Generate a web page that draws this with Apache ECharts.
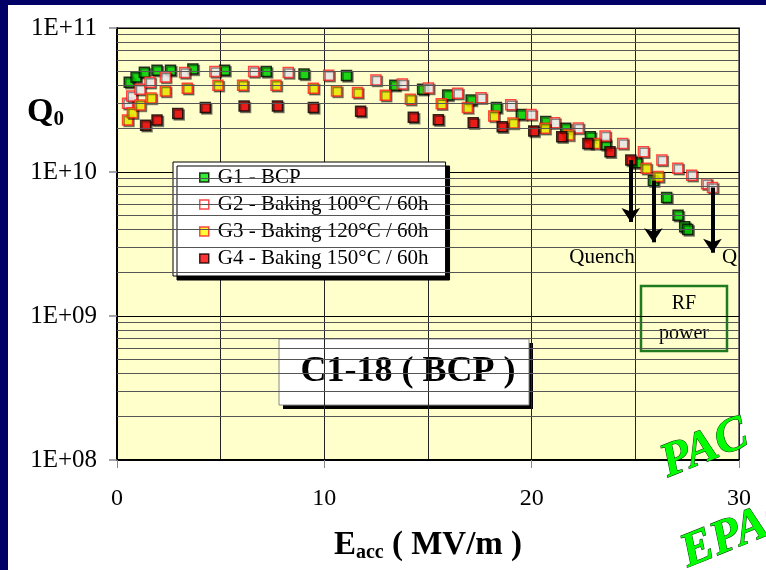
<!DOCTYPE html>
<html>
<head>
<meta charset="utf-8">
<script src="https://cdn.jsdelivr.net/npm/echarts@6.0.0/dist/echarts.min.js"></script>
<style>
  html, body { margin: 0; padding: 0; background: #fff; }
  #frame { position: relative; width: 766px; height: 570px; background: #fff; box-shadow: inset 8px 5px 0 #000066; }
  #chart { position: absolute; left: 0; top: 0; width: 766px; height: 570px; }
</style>
</head>
<body>
<div id="frame"><div id="chart"></div></div>
<script>
// G1 - BCP
const g1E = [0.59, 0.92, 1.32, 1.93, 2.58, 3.66, 5.19, 7.2, 9.02, 11.07, 13.4, 14.74, 15.95, 17.08, 18.3, 19.5, 20.68, 21.64, 22.83, 23.57, 25.07, 25.87, 26.51, 27.06, 27.38, 27.53];
const g1Q = [4.2e10, 4.57e10, 4.92e10, 5.08e10, 5.08e10, 5.2e10, 5.08e10, 4.98e10, 4.79e10, 4.67e10, 4.0e10, 3.75e10, 3.43e10, 3.16e10, 2.81e10, 2.51e10, 2.24e10, 2.01e10, 1.76e10, 1.55e10, 1.16e10, 8.7e9, 6.64e9, 5.0e9, 4.17e9, 3.98e9];
// G2 - Baking 100°C
const g2E = [0.51, 0.71, 1.11, 1.59, 2.33, 3.26, 4.72, 6.59, 8.26, 10.21, 12.49, 13.76, 15.02, 16.43, 17.56, 18.99, 19.97, 21.11, 22.25, 23.54, 24.39, 25.39, 26.28, 27.05, 27.72, 28.44, 28.72];
const g2Q = [3.0e10, 3.37e10, 3.75e10, 4.2e10, 4.57e10, 4.9e10, 4.98e10, 4.98e10, 4.9e10, 4.7e10, 4.35e10, 4.08e10, 3.83e10, 3.52e10, 3.28e10, 2.93e10, 2.51e10, 2.2e10, 2.02e10, 1.78e10, 1.58e10, 1.38e10, 1.21e10, 1.06e10, 9.5e9, 8.3e9, 7.8e9];
// G3 - Baking 120°C
const g3E = [0.51, 0.74, 1.11, 1.64, 2.33, 3.39, 4.87, 6.06, 7.67, 9.47, 10.59, 11.6, 12.94, 14.15, 15.64, 16.9, 18.17, 19.1, 20.63, 21.78, 23.05, 25.52, 26.11];
const g3Q = [2.3e10, 2.58e10, 2.92e10, 3.27e10, 3.65e10, 3.81e10, 4.0e10, 4.0e10, 4.0e10, 3.81e10, 3.65e10, 3.57e10, 3.41e10, 3.2e10, 2.98e10, 2.8e10, 2.45e10, 2.19e10, 2.01e10, 1.81e10, 1.58e10, 1.06e10, 9.3e9];
// G4 - Baking 150°C
const g4E = [1.38, 1.93, 2.93, 4.26, 6.13, 7.74, 9.47, 11.75, 14.29, 15.5, 17.18, 18.58, 20.1, 21.45, 22.71, 23.78, 24.78];
const g4Q = [2.11e10, 2.3e10, 2.55e10, 2.8e10, 2.87e10, 2.87e10, 2.81e10, 2.64e10, 2.4e10, 2.31e10, 2.2e10, 2.06e10, 1.93e10, 1.76e10, 1.58e10, 1.38e10, 1.21e10];

// quench arrows
const arrowE = [24.78, 25.87, 28.72];
const arrowFrom = [1.21e10, 8.7e9, 7.8e9];
const arrowTo = [4.5e9, 3.25e9, 2.75e9];

const seriesNames = ['G1 - BCP', 'G2 - Baking 100°C / 60h', 'G3 - Baking 120°C / 60h', 'G4 - Baking 150°C / 60h'];

const serif = 'Liberation Serif';

// log grid lines 2..9 in every decade
const minorQ = [];
[1e8, 1e9, 1e10].forEach(d => {
  for (let m = 2; m <= 9; m++) minorQ.push(m * d);
});

const pairs = (xs, ys) => xs.map((x, i) => [x, ys[i]]);

const styles = [
  { color: '#00e600', borderColor: '#000', borderWidth: 1.5 },
  { color: '#ffffff', borderColor: '#ff1a1a', borderWidth: 1.5 },
  { color: '#ffff00', borderColor: '#ff1a1a', borderWidth: 1.5 },
  { color: '#ff0000', borderColor: '#000', borderWidth: 1.5 }
];
const dataSets = [pairs(g1E, g1Q), pairs(g2E, g2Q), pairs(g3E, g3Q), pairs(g4E, g4Q)];

const chart = echarts.init(document.getElementById('chart'));

const option = {
  backgroundColor: 'transparent',
  animation: false,
  textStyle: { fontFamily: serif },
  grid: {
    left: 117, top: 28, right: 27, bottom: 110,
    show: true, backgroundColor: '#ffffcc', borderColor: '#777', borderWidth: 2
  },
  legend: {
    data: seriesNames.map((n, i) => ({ name: n, itemStyle: styles[i] })),
    orient: 'vertical',
    left: 173, top: 162,
    icon: 'rect',
    itemWidth: 9, itemHeight: 9,
    itemGap: 6,
    padding: [5, 17, 7, 26],
    backgroundColor: '#fff',
    borderColor: '#000', borderWidth: 1,
    shadowColor: '#000', shadowBlur: 0, shadowOffsetX: 4, shadowOffsetY: 4,
    textStyle: { fontFamily: serif, fontSize: 21, color: '#000', padding: [0, 0, 0, 4] },
    selectedMode: false
  },
  xAxis: {
    type: 'value', min: 0, max: 30, interval: 10,
    name: '{e|E}{s|acc}{e| ( MV/m )}',
    nameLocation: 'middle', nameGap: 64,
    nameTextStyle: {
      rich: {
        e: { fontFamily: serif, fontSize: 33, fontWeight: 'bold', color: '#000', lineHeight: 42 },
        s: { fontFamily: serif, fontSize: 20, fontWeight: 'bold', color: '#000', lineHeight: 42, padding: [16, 0, 0, 0] }
      }
    },
    axisLine: { lineStyle: { color: '#000', width: 2 } },
    axisTick: { show: true, length: 8, lineStyle: { color: '#888' } },
    axisLabel: { fontFamily: serif, fontSize: 24, color: '#000', margin: 27 },
    splitLine: { show: true, lineStyle: { color: '#222', width: 1 } },
    minorTick: { show: false, splitNumber: 2 },
    minorSplitLine: { show: true, lineStyle: { color: '#222', width: 1 } }
  },
  yAxis: {
    type: 'log', logBase: 10, min: 1e8, max: 1e11,
    axisLine: { show: true, lineStyle: { color: '#000', width: 2 } },
    axisTick: { show: true, length: 8, lineStyle: { color: '#888', width: 1.5 } },
    axisLabel: {
      fontFamily: serif, fontSize: 25, color: '#000', margin: 20,
      formatter: v => '1E+' + String(Math.round(Math.log10(v))).padStart(2, '0')
    },
    splitLine: { show: true, lineStyle: { color: '#000', width: 1 } }
  },
  graphic: [
    {
      type: 'text', left: 27, top: 94, z: 10,
      style: {
        text: '{q|Q}{s|0}',
        rich: {
          q: { fontFamily: serif, fontSize: 34, fontWeight: 'bold', fill: '#000', lineHeight: 38 },
          s: { fontFamily: serif, fontSize: 21, fontWeight: 'bold', fill: '#000', lineHeight: 38, padding: [15, 0, 0, 0] }
        }
      }
    },
    // chart title box (shadow rect, then box)
    {
      type: 'group', z: 100,
      children: [
        { type: 'rect', shape: { x: 283, y: 343, width: 250, height: 66 }, style: { fill: '#000' } },
        { type: 'rect', shape: { x: 279, y: 339, width: 250, height: 66 }, style: { fill: '#fff', stroke: '#888', lineWidth: 1 } },
        { type: 'text', x: 408, y: 372,
          style: { text: 'C1-18 ( BCP )', font: 'bold 36px "Liberation Serif"', fill: '#000', align: 'center', verticalAlign: 'middle' } }
      ]
    },
    // quench label
    {
      type: 'group', z: 100,
      children: [
        { type: 'rect', shape: { x: 561, y: 240, width: 81, height: 34 }, style: { fill: '#ffffcc' } },
        { type: 'text', x: 602, y: 257,
          style: { text: 'Quench', font: '21px "Liberation Serif"', fill: '#000', align: 'center', verticalAlign: 'middle' } },
        { type: 'text', x: 722, y: 257,
          style: { text: 'Q', font: '21px "Liberation Serif"', fill: '#000', align: 'left', verticalAlign: 'middle' } }
      ]
    },
    // RF power box
    {
      type: 'group', z: 100,
      children: [
        { type: 'rect', shape: { x: 641, y: 286, width: 86, height: 65 }, style: { fill: '#ffffcc', stroke: '#1f7a1f', lineWidth: 2.5 } },
        { type: 'text', x: 684, y: 304,
          style: { text: 'RF', font: '20px "Liberation Serif"', fill: '#000', align: 'center', verticalAlign: 'middle' } },
        { type: 'text', x: 684, y: 334,
          style: { text: 'power', font: '20px "Liberation Serif"', fill: '#000', align: 'center', verticalAlign: 'middle' } }
      ]
    },
    // logo text
    {
      type: 'text', x: 672, y: 488, rotation: 0.38, z: 110,
      style: {
        text: 'PAC', font: 'italic bold 48px "Liberation Serif"', fill: '#00ff00',
        stroke: '#003300', lineWidth: 1,
        shadowColor: '#000', shadowOffsetX: 2, shadowOffsetY: 2, shadowBlur: 1,
        align: 'left', verticalAlign: 'bottom'
      }
    },
    {
      type: 'text', x: 692, y: 578, rotation: 0.38, z: 110,
      style: {
        text: 'EPAC', font: 'italic bold 48px "Liberation Serif"', fill: '#00ff00',
        stroke: '#003300', lineWidth: 1,
        shadowColor: '#000', shadowOffsetX: 2, shadowOffsetY: 2, shadowBlur: 1,
        align: 'left', verticalAlign: 'bottom'
      }
    }
  ],
  series: [
    {
      type: 'line', data: [], silent: true,
      markLine: {
        silent: true, symbol: 'none', animation: false,
        label: { show: false },
        lineStyle: { color: '#555', width: 1, type: 'solid' },
        emphasis: { disabled: true },
        data: minorQ.map(v => ({ yAxis: v }))
      }
    },
    ...dataSets.map((d, i) => ({
      name: seriesNames[i],
      type: 'scatter',
      symbol: 'rect',
      symbolSize: 10,
      data: d,
      itemStyle: Object.assign({ shadowColor: 'rgba(0,0,0,0.55)', shadowOffsetX: 1.5, shadowOffsetY: 1.5, shadowBlur: 0 }, styles[i]),
      emphasis: { disabled: true }
    })),
    {
      type: 'line', data: [], silent: true, z: 5,
      markLine: {
        silent: true, animation: false,
        symbol: ['none', 'arrow'], symbolSize: 14,
        label: { show: false },
        lineStyle: { color: '#000', width: 4, type: 'solid' },
        itemStyle: { color: '#000' },
        emphasis: { disabled: true },
        data: arrowE.map((e, i) => [{ coord: [e, arrowFrom[i]] }, { coord: [e, arrowTo[i]] }])
      }
    }
  ]
};

chart.setOption(option);
</script>
</body>
</html>
